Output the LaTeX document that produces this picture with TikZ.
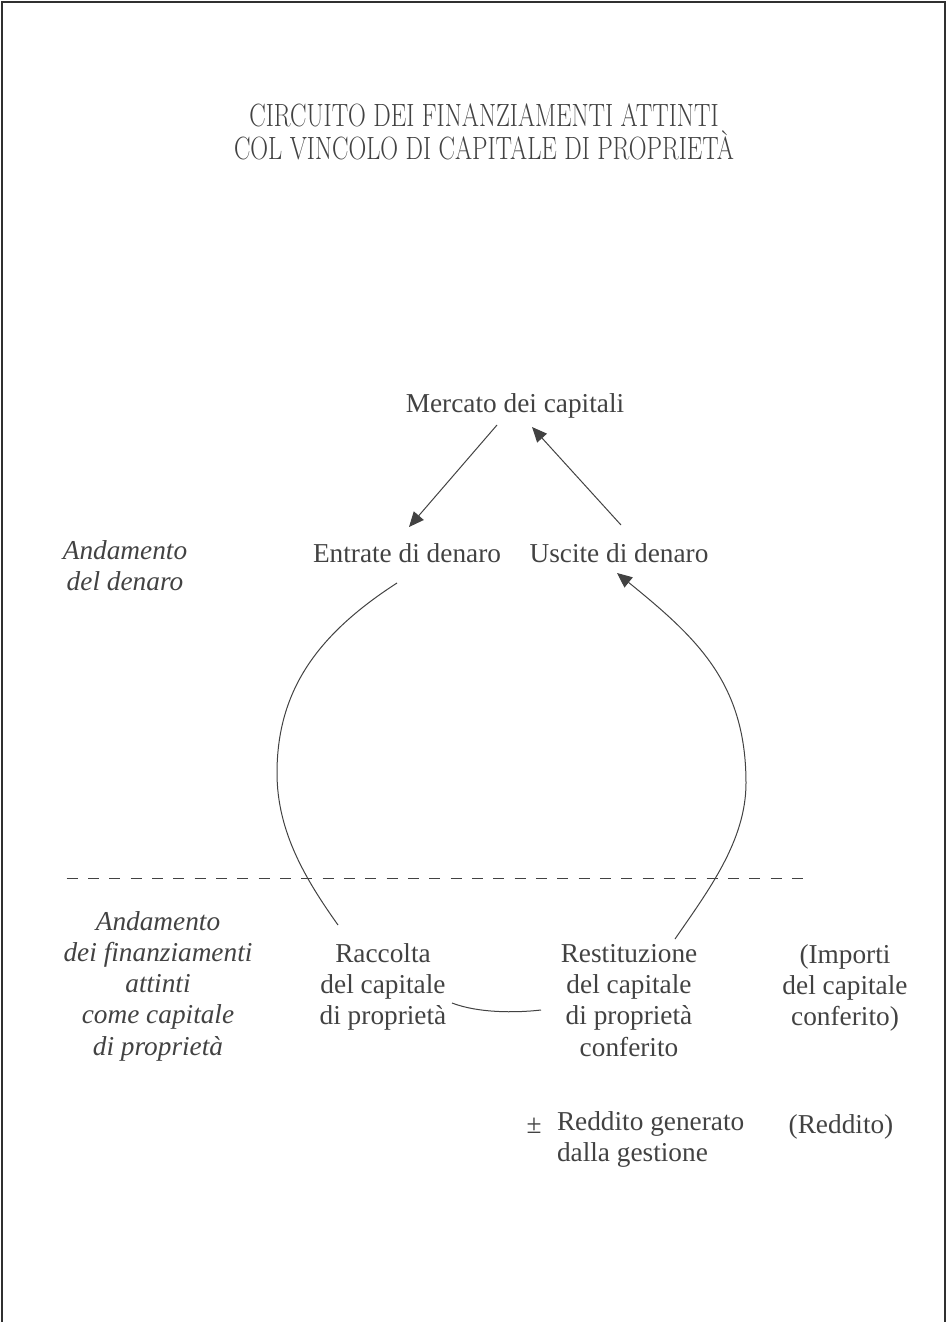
\documentclass[tikz,border=0pt]{standalone}
\usepackage{fontspec}
\setmainfont{Liberation Serif}
\usetikzlibrary{arrows.meta}
\definecolor{ink}{HTML}{424242}
\definecolor{frame}{HTML}{303030}
\begin{document}
\begin{tikzpicture}[x=1pt,y=-1pt,
  txt/.style={inner sep=0pt, outer sep=0pt, text=ink, anchor=north, align=center,
    font=\fontsize{27.3}{31.3}\selectfont, execute at begin node=\strut},
  itxt/.style={txt, font=\fontsize{27.3}{31.3}\selectfont\itshape},
  titletxt/.style={txt, font=\fontfamily{lmr}\fontsize{32.2}{33}\selectfont},
  conn/.style={draw=ink, line width=1pt},
  arr/.style={conn, -{Triangle[length=15pt,width=13pt]}},
  divider/.style={draw=ink, line width=1pt, dash pattern=on 11pt off 10.33pt},
  border/.style={draw=frame, line width=1.3pt}
]
\useasboundingbox (0,0) rectangle (947,1322);
\draw[border] (2,1322) -- (2,2) -- (945,2) -- (945,1322);

% title
\node[titletxt] (title) at (484,103.9)
  {\scalebox{0.766}[1]{CIRCUITO DEI FINANZIAMENTI ATTINTI}\\
   \scalebox{0.765}[1]{COL VINCOLO DI CAPITALE DI PROPRIETÀ}};

% money level
\node[txt] (mercato) at (515,390.1) {Mercato dei capitali};
\node[txt] (entrate) at (407,540.1) {Entrate di denaro};
\node[txt] (uscite) at (619,540.1) {Uscite di denaro};
\node[itxt] (anddenaro) at (125,540.1) {Andamento\\del denaro};

% financing level
\node[itxt] (andfin) at (158,911.1) {Andamento\\dei finanziamenti\\attinti\\come capitale\\di proprietà};
\node[txt] (raccolta) at (383,943.1) {Raccolta\\del capitale\\di proprietà};
\node[txt] (restituzione) at (629,944.1) {Restituzione\\del capitale\\di proprietà\\conferito};
\node[txt] (importi) at (845,944.1) {(Importi\\del capitale\\conferito)};

\node[txt, anchor=north] (pm) at (534,1111.1) {±};
\node[txt, anchor=north west, align=left] (reddito) at (557,1111.1) {Reddito generato\\dalla gestione};
\node[txt] (redditopar) at (841,1111.1) {(Reddito)};

% divider
\coordinate (divL) at (66.7,878.3);
\coordinate (divR) at (803,878.3);
\draw[divider] (divL) -- (divR);

% connector end points
\coordinate (mOutL) at (497,425);
\coordinate (eIn) at (409,527);
\coordinate (uOut) at (621,525);
\coordinate (mIn) at (532,427);
\coordinate (eOut) at (397,583);
\coordinate (lMid) at (277,773);
\coordinate (rIn) at (338,925);
\coordinate (resOut) at (675,939);
\coordinate (rMid) at (746,783);
\coordinate (uIn) at (617,573);
\coordinate (raccR) at (452,1003);
\coordinate (restL) at (541,1010);

\draw[arr] (mOutL) -- (eIn);
\draw[arr] (uOut) -- (mIn);

\draw[conn] (eOut) .. controls (318,634) and (277,690) .. (lMid)
                   .. controls (277,832) and (306,880) .. (rIn);
\draw[arr] (resOut) .. controls (708,891) and (746,841) .. (rMid)
                    .. controls (746,683) and (697,638) .. (uIn);
\draw[conn] (raccR) .. controls (478,1013) and (515,1013) .. (restL);
\end{tikzpicture}
\end{document}
